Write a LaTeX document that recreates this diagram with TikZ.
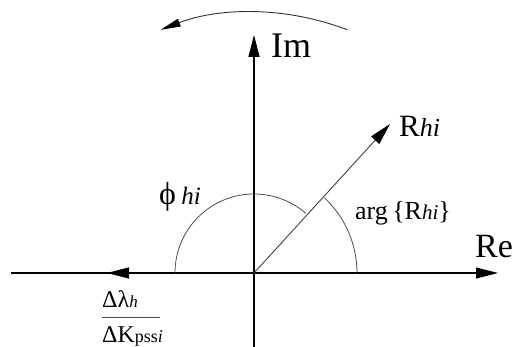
\documentclass[tikz,border=0pt]{standalone}
\usepackage{fontspec}
\setmainfont{Liberation Serif}
\usetikzlibrary{arrows.meta}
\begin{document}
\begin{tikzpicture}[x=1pt,y=1pt,
  axis/.style={line width=1.1pt, draw=black},
  thinarc/.style={line width=0.8pt, draw=black!70},
  tipped/.style={-{Triangle[length=22pt,width=11pt,color=black]}},
  lbl/.style={inner sep=0pt, anchor=base west}]
\useasboundingbox (0,0) rectangle (517,347);
\coordinate (O) at (254,74);
\coordinate (ReL) at (11,74);
\coordinate (ReR) at (498,74);
\coordinate (ImB) at (254,0);
\coordinate (ImT) at (254,312);
\coordinate (LA1) at (130,74);
\coordinate (LA2) at (107,74);
\coordinate (Rtip) at (390,223);
\coordinate (F1) at (102,30);
\coordinate (F2) at (160,30);
% axes
\draw[axis,tipped] (ReL) -- (ReR);
\draw[axis,tipped] (ImB) -- (ImT);
\draw[axis,tipped] (LA1) -- (LA2);
% vector
\draw[line width=0.9pt, draw=black!75, tipped] (O) -- (Rtip);
% angle arcs
\draw[thinarc] ([shift={(180:79)}]O) arc[start angle=180,end angle=49,radius=79];
\draw[thinarc] ([shift={(0:103)}]O) arc[start angle=0,end angle=47,radius=103];
% rotation arc
\draw[line width=0.9pt, draw=black!80, -{Triangle[length=20pt,width=8pt,color=black]}]
  ([shift={(69:260.5)}]O) arc[start angle=69,end angle=111,radius=260.5];
% labels
\node[lbl] (im) at (271,289) {\fontsize{36}{36}\selectfont Im};
\node[lbl] (re) at (475,89) {\fontsize{34}{34}\selectfont Re};
\node[lbl] (rhi) at (399,210) {\fontsize{31}{31}\selectfont R\fontsize{26}{26}\selectfont\itshape hi};
\node[lbl] (phi) at (159,142) {\fontsize{32}{32}\selectfont ϕ\,\fontsize{25}{25}\selectfont\itshape hi};
\node[lbl] (arg) at (355,127) {\fontsize{26}{26}\selectfont arg\,\{R\fontsize{21}{21}\selectfont\itshape hi\/\upshape\fontsize{26}{26}\selectfont\}};
\node[lbl] (num) at (102,39) {\fontsize{24}{24}\selectfont Δλ\fontsize{17}{17}\selectfont\itshape h};
\node[lbl] (den) at (102,4) {\fontsize{24}{24}\selectfont ΔK\fontsize{18}{18}\selectfont pss\itshape i};
\draw[line width=0.9pt, draw=black!70] (F1) -- (F2);
\end{tikzpicture}
\end{document}
